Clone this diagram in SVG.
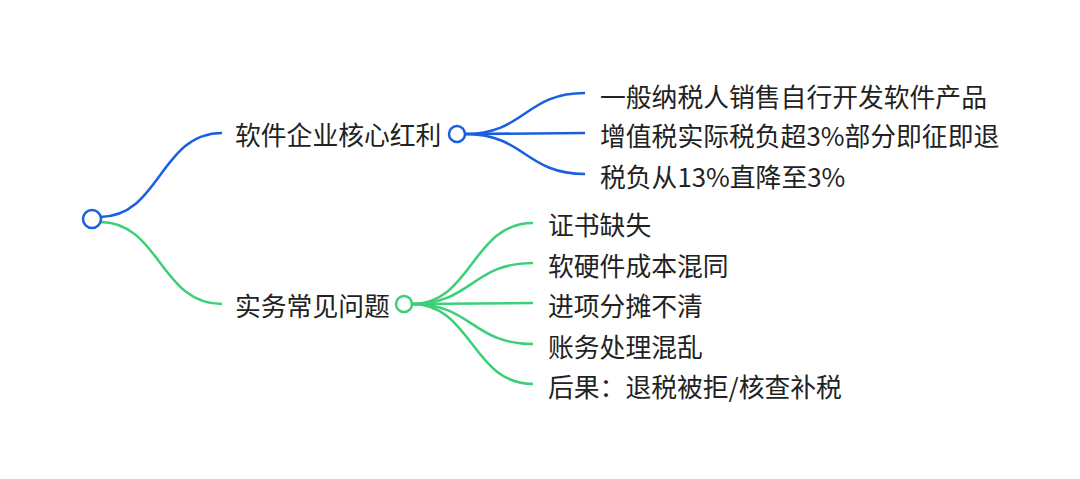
<svg xmlns="http://www.w3.org/2000/svg" width="1080" height="479" viewBox="0 0 1080 479">
<style>
.t{font-family:"Noto Sans CJK SC","Microsoft YaHei",sans-serif;font-size:25.8px;fill:#222;dominant-baseline:central}
.b{stroke:#1a5fe0;fill:none;stroke-width:2.5}
.g{stroke:#3ccf78;fill:none;stroke-width:2.5}
.cb{stroke:#1a5fe0;fill:#fff;stroke-width:2.5}
.cg{stroke:#3ccf78;fill:#fff;stroke-width:2.5}
</style>
<rect width="1080" height="479" fill="#fff"/>
<g id="connectors">
<path class="b" d="M100 217 C160 217,160 133,222 133"/>
<path class="g" d="M100 222 C160 222,160 304,222 304"/>
<path class="b" d="M465 134 C525 134,525 93,585 93"/>
<path class="b" d="M465 134 L585 133"/>
<path class="b" d="M465 134 C525 134,525 174,585 174"/>
<path class="g" d="M412 304 C472 304,472 223,533 223"/>
<path class="g" d="M412 304 C472 304,472 263,533 263"/>
<path class="g" d="M412 304 L533 303"/>
<path class="g" d="M412 304 C472 304,472 344,533 344"/>
<path class="g" d="M412 304 C472 304,472 384,533 384"/>
</g>
<g id="root"><circle class="cb" cx="92" cy="219" r="9"/></g>
<g id="n1"><text class="t" x="235" y="133">软件企业核心红利</text><circle class="cb" cx="457" cy="134" r="8"/></g>
<g id="n2"><text class="t" x="235" y="304">实务常见问题</text><circle class="cg" cx="404" cy="304" r="8"/></g>
<g id="n1a"><text class="t" x="600" y="95">一般纳税人销售自行开发软件产品</text></g>
<g id="n1b"><text class="t" x="600" y="134">增值税实际税负超3%部分即征即退</text></g>
<g id="n1c"><text class="t" x="600" y="175">税负从13%直降至3%</text></g>
<g id="n2a"><text class="t" x="548" y="223">证书缺失</text></g>
<g id="n2b"><text class="t" x="548" y="264">软硬件成本混同</text></g>
<g id="n2c"><text class="t" x="548" y="304">进项分摊不清</text></g>
<g id="n2d"><text class="t" x="548" y="345">账务处理混乱</text></g>
<g id="n2e"><text class="t" x="548" y="385">后果：退税被拒/核查补税</text></g>
</svg>
